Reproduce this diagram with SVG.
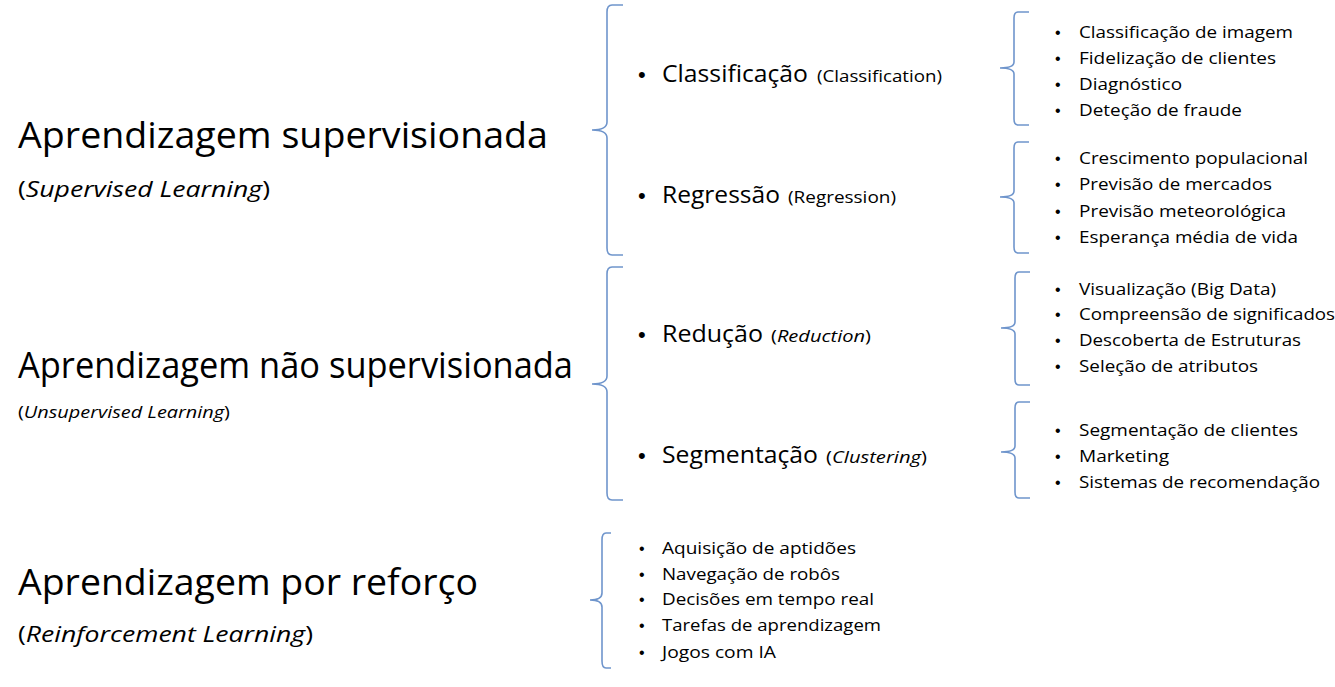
<svg xmlns="http://www.w3.org/2000/svg" width="1335" height="687" viewBox="0 0 1335 687">
<style>
text{font-family:"Open Sans","Liberation Sans",sans-serif;fill:#000}
.t{font-size:37px}
.s{font-size:22px}
.s2{font-size:17px}
.m{font-size:24px}
.mp{font-size:17px}
.l{font-size:16.5px}
.i{font-style:italic}
.bm{font-family:"Liberation Sans",sans-serif;font-size:22px}
.bl{font-family:"Liberation Sans",sans-serif;font-size:16px}
.br{fill:none;stroke:#6f95cc;stroke-width:1.6}
</style>
<rect width="1335" height="687" fill="#fff"/>
<g id="sup">
<text class="t" x="18" y="148" textLength="530" lengthAdjust="spacingAndGlyphs">Aprendizagem supervisionada</text>
<text class="s" x="18" y="197" textLength="252" lengthAdjust="spacingAndGlyphs">(<tspan class="i">Supervised Learning</tspan>)</text>
</g>
<g id="unsup">
<text class="t" x="18" y="378" textLength="555" lengthAdjust="spacingAndGlyphs">Aprendizagem não supervisionada</text>
<text class="s2" x="18" y="418" textLength="212" lengthAdjust="spacingAndGlyphs">(<tspan class="i">Unsupervised Learning</tspan>)</text>
</g>
<g id="reinf">
<text class="t" x="18" y="595" textLength="460" lengthAdjust="spacingAndGlyphs">Aprendizagem por reforço</text>
<text class="s" x="18" y="642" textLength="295" lengthAdjust="spacingAndGlyphs">(<tspan class="i">Reinforcement Learning</tspan>)</text>
</g>
<g id="connectors">
<path class="br" d="M623,5 H612 Q607,5 607,12 V122 Q607,130 592,130 Q607,130 607,138 V248 Q607,255 612,255 H623"/>
<path class="br" d="M623,267 H612 Q607,267 607,274 V376 Q607,384 592,384 Q607,384 607,392 V493 Q607,500 612,500 H623"/>
<path class="br" d="M611,533 H606 Q602,533 602,540 V593 Q602,600 590,600 Q602,600 602,607 V661 Q602,668 606,668 H611"/>
<path class="br" d="M1029,12 H1018 Q1014,12 1014,18 V62 Q1014,68 1000,68 Q1014,68 1014,74 V119 Q1014,125 1018,125 H1029"/>
<path class="br" d="M1029,142 H1018 Q1014,142 1014,148 V191 Q1014,197 1000,197 Q1014,197 1014,203 V247 Q1014,253 1018,253 H1029"/>
<path class="br" d="M1030,272 H1019 Q1015,272 1015,278 V322 Q1015,328 1001,328 Q1015,328 1015,334 V379 Q1015,385 1019,385 H1030"/>
<path class="br" d="M1030,402 H1019 Q1015,402 1015,408 V446 Q1015,452 1001,452 Q1015,452 1015,458 V492 Q1015,498 1019,498 H1030"/>
</g>
<g id="classif">
<text class="bm" x="638" y="82">•</text>
<text class="m" x="662" y="82" textLength="146" lengthAdjust="spacingAndGlyphs">Classificação</text>
<text class="mp" x="817" y="82" textLength="125" lengthAdjust="spacingAndGlyphs">(Classification)</text>
</g>
<g id="regress">
<text class="bm" x="638" y="203">•</text>
<text class="m" x="662" y="203" textLength="118" lengthAdjust="spacingAndGlyphs">Regressão</text>
<text class="mp" x="788" y="203" textLength="108" lengthAdjust="spacingAndGlyphs">(Regression)</text>
</g>
<g id="reduc">
<text class="bm" x="638" y="342">•</text>
<text class="m" x="662" y="342" textLength="101" lengthAdjust="spacingAndGlyphs">Redução</text>
<text class="mp" x="771" y="342" textLength="100" lengthAdjust="spacingAndGlyphs">(<tspan class="i">Reduction</tspan>)</text>
</g>
<g id="segment">
<text class="bm" x="638" y="463">•</text>
<text class="m" x="662" y="463" textLength="156" lengthAdjust="spacingAndGlyphs">Segmentação</text>
<text class="mp" x="826" y="463" textLength="101" lengthAdjust="spacingAndGlyphs">(<tspan class="i">Clustering</tspan>)</text>
</g>
<g id="list-classif">
<text class="bl" x="1055" y="38">•</text><text class="l" x="1079" y="38" textLength="214" lengthAdjust="spacingAndGlyphs">Classificação de imagem</text>
<text class="bl" x="1055" y="64">•</text><text class="l" x="1079" y="64" textLength="197" lengthAdjust="spacingAndGlyphs">Fidelização de clientes</text>
<text class="bl" x="1055" y="90">•</text><text class="l" x="1079" y="90" textLength="103" lengthAdjust="spacingAndGlyphs">Diagnóstico</text>
<text class="bl" x="1055" y="116">•</text><text class="l" x="1079" y="116" textLength="163" lengthAdjust="spacingAndGlyphs">Deteção de fraude</text>
</g>
<g id="list-regress">
<text class="bl" x="1055" y="164">•</text><text class="l" x="1079" y="164" textLength="229" lengthAdjust="spacingAndGlyphs">Crescimento populacional</text>
<text class="bl" x="1055" y="190">•</text><text class="l" x="1079" y="190" textLength="193" lengthAdjust="spacingAndGlyphs">Previsão de mercados</text>
<text class="bl" x="1055" y="217">•</text><text class="l" x="1079" y="217" textLength="207" lengthAdjust="spacingAndGlyphs">Previsão meteorológica</text>
<text class="bl" x="1055" y="243">•</text><text class="l" x="1079" y="243" textLength="219" lengthAdjust="spacingAndGlyphs">Esperança média de vida</text>
</g>
<g id="list-reduc">
<text class="bl" x="1055" y="295">•</text><text class="l" x="1079" y="295" textLength="197" lengthAdjust="spacingAndGlyphs">Visualização (Big Data)</text>
<text class="bl" x="1055" y="320">•</text><text class="l" x="1079" y="320" textLength="256" lengthAdjust="spacingAndGlyphs">Compreensão de significados</text>
<text class="bl" x="1055" y="346">•</text><text class="l" x="1079" y="346" textLength="222" lengthAdjust="spacingAndGlyphs">Descoberta de Estruturas</text>
<text class="bl" x="1055" y="372">•</text><text class="l" x="1079" y="372" textLength="179" lengthAdjust="spacingAndGlyphs">Seleção de atributos</text>
</g>
<g id="list-segment">
<text class="bl" x="1055" y="436">•</text><text class="l" x="1079" y="436" textLength="219" lengthAdjust="spacingAndGlyphs">Segmentação de clientes</text>
<text class="bl" x="1055" y="462">•</text><text class="l" x="1079" y="462" textLength="90" lengthAdjust="spacingAndGlyphs">Marketing</text>
<text class="bl" x="1055" y="488">•</text><text class="l" x="1079" y="488" textLength="241" lengthAdjust="spacingAndGlyphs">Sistemas de recomendação</text>
</g>
<g id="list-reinf">
<text class="bl" x="639" y="554">•</text><text class="l" x="662" y="554" textLength="194" lengthAdjust="spacingAndGlyphs">Aquisição de aptidões</text>
<text class="bl" x="639" y="580">•</text><text class="l" x="662" y="580" textLength="178" lengthAdjust="spacingAndGlyphs">Navegação de robôs</text>
<text class="bl" x="639" y="605">•</text><text class="l" x="662" y="605" textLength="212" lengthAdjust="spacingAndGlyphs">Decisões em tempo real</text>
<text class="bl" x="639" y="631">•</text><text class="l" x="662" y="631" textLength="219" lengthAdjust="spacingAndGlyphs">Tarefas de aprendizagem</text>
<text class="bl" x="639" y="658">•</text><text class="l" x="662" y="658" textLength="114" lengthAdjust="spacingAndGlyphs">Jogos com IA</text>
</g>
</svg>
